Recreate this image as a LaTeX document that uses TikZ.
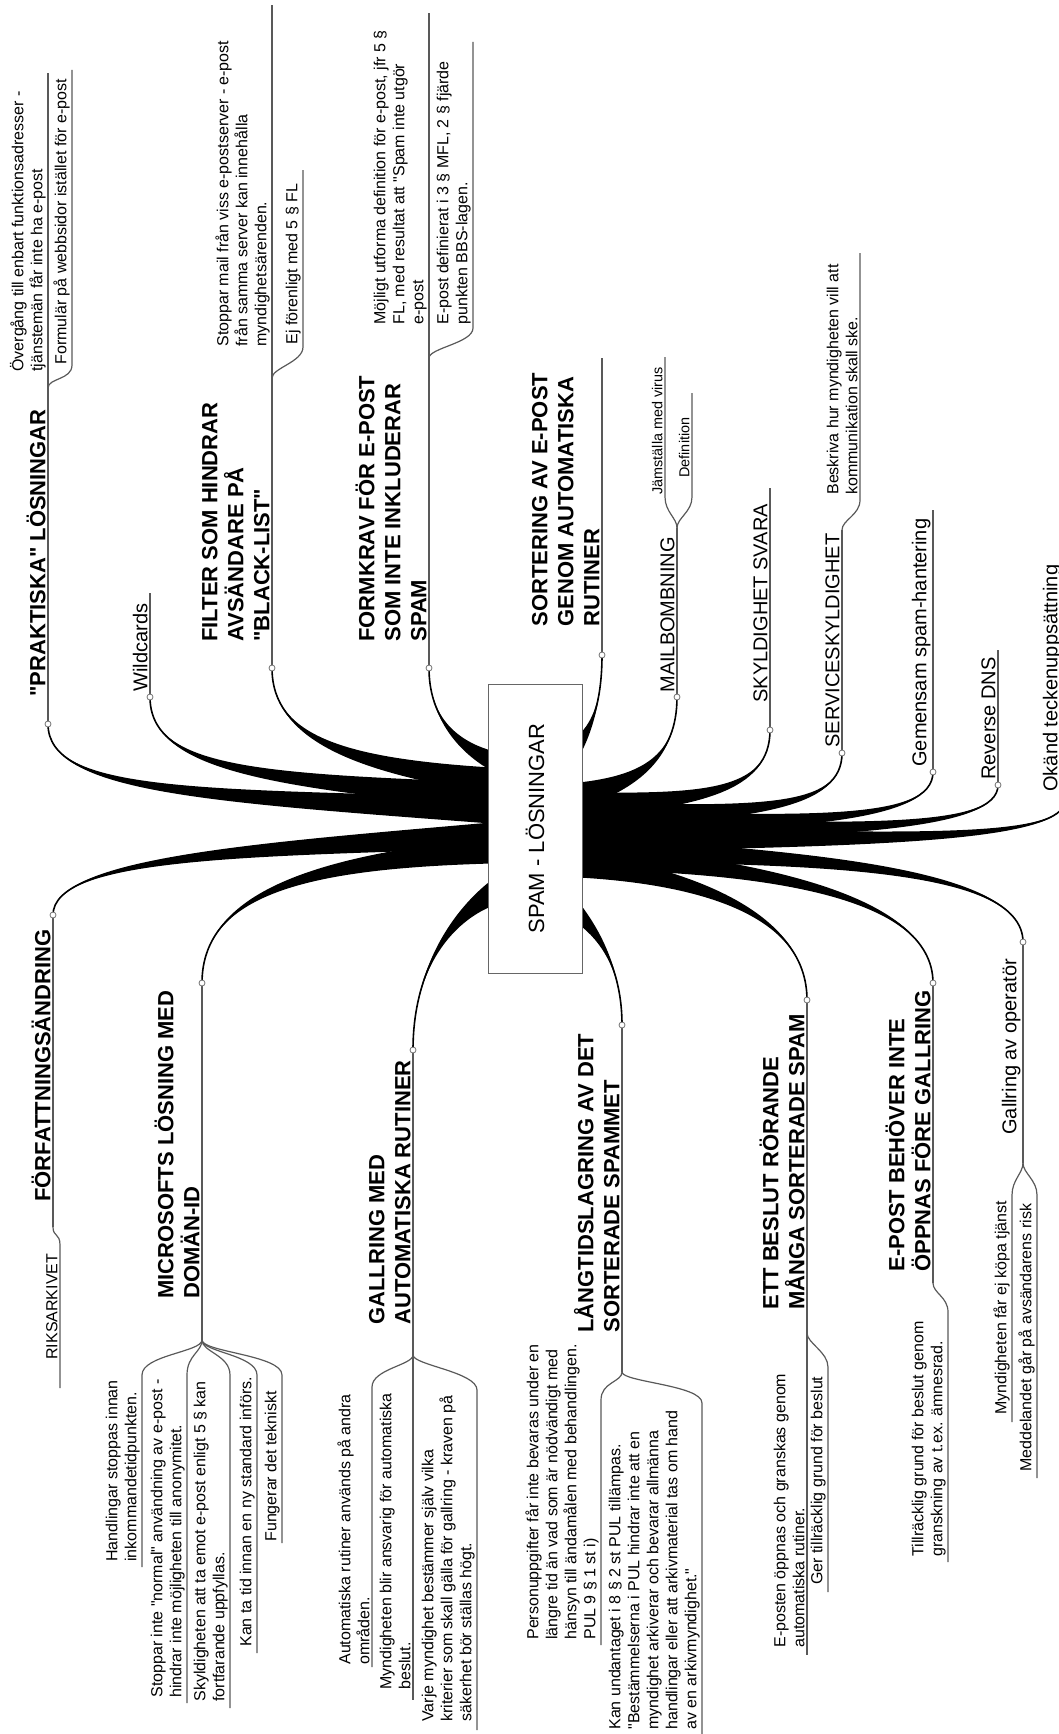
\documentclass[tikz,border=0pt]{standalone}
\usepackage{fontspec}
\newfontfamily\liber{Liberation Sans}
\usetikzlibrary{calc}

% tapered main branch: offset from hub, two controls, junction, half width
\newcommand{\stem}[5]{%
  \fill ($(hub)+(#1)+(0,#5)$) .. controls ($(#2)+(0,0.5*#5)$) and (#3) .. (#4)
     .. controls (#3) and ($(#2)-(0,0.5*#5)$) .. ($(hub)+(#1)-(0,#5)$) -- cycle;
  \draw[line width=0.8pt] ($(hub)+(#1)$) .. controls (#2) and (#3) .. (#4);
}

\begin{document}
\begin{tikzpicture}[x=0.5pt,y=-0.5pt]
    \tikzstyle{main}=[rotate=90,anchor=south west,inner sep=0pt,align=left,font=\liber\fontsize{11}{13}\selectfont\bfseries]
    \tikzstyle{sub}=[rotate=90,anchor=south west,inner sep=0pt,align=left,font=\liber\fontsize{10}{12}\selectfont]
    \tikzstyle{leaf}=[rotate=90,anchor=south west,inner sep=0pt,align=left,font=\liber\fontsize{8}{9.5}\selectfont]
    \tikzstyle{tiny}=[rotate=90,anchor=south west,inner sep=0pt,align=left,font=\liber\fontsize{7.2}{8.6}\selectfont]
    \tikzstyle{uline}=[draw=black!65,line width=0.6pt]
    \tikzstyle{knot}=[circle,draw=black!55,fill=white,inner sep=0pt,minimum size=3pt,line width=0.4pt]

    \useasboundingbox (0,0) rectangle (1059,1734);
    \clip (0,0) rectangle (1059,1734);

    \coordinate (hub) at (535,828.5);

    % junctions and ends of the main topics
    \coordinate (prak-j) at (48,724);     \coordinate (prak-f) at (48,388);
    \coordinate (wild-j) at (150,697);    \coordinate (wild-f) at (150,593);
    \coordinate (filt-j) at (272,668);    \coordinate (filt-f) at (272,378);
    \coordinate (form-j) at (429,668);    \coordinate (form-f) at (429,358);
    \coordinate (sort-j) at (602,655);    \coordinate (sort-f) at (602,358);
    \coordinate (mail-j) at (677,697);    \coordinate (mail-f) at (677,528);
    \coordinate (skyl-j) at (770,730);    \coordinate (skyl-f) at (770,488);
    \coordinate (serv-j) at (842,753);    \coordinate (serv-f) at (842,530);
    \coordinate (gem-j) at (933,772);     \coordinate (gem-f) at (933,510);
    \coordinate (dns-j) at (998,785);     \coordinate (dns-f) at (998,650);
    \coordinate (okand-j) at (1065,800);  \coordinate (okand-f) at (1065,540);
    \coordinate (forf-j) at (53,915);     \coordinate (forf-f) at (53,1227);
    \coordinate (ms-j) at (202,983);      \coordinate (ms-f) at (202,1340);
    \coordinate (gall-j) at (413,1050);   \coordinate (gall-f) at (413,1355);
    \coordinate (lang-j) at (622,1025);   \coordinate (lang-f) at (622,1372);
    \coordinate (beslut-j) at (807,1000); \coordinate (beslut-f) at (807,1333);
    \coordinate (epost-j) at (933,983);   \coordinate (epost-f) at (933,1283);
    \coordinate (gop-j) at (1023,942);    \coordinate (gop-f) at (1023,1163);

    % branches out of the centre
    \stem{-44,-18}{200,795}{48,792}{prak-j}{13}
    \stem{-44,-33}{260,780}{150,768}{wild-j}{13}
    \stem{-44,-48}{350,765}{272,738}{filt-j}{13}
    \stem{-44,-68}{455,745}{429,715}{form-j}{10}
    \stem{44,-83}{592,728}{602,700}{sort-j}{11}
    \stem{44,-33}{640,782}{677,757}{mail-j}{13}
    \stem{44,-23}{700,800}{770,792}{skyl-j}{13}
    \stem{44,-13}{760,813}{842,808}{serv-j}{13}
    \stem{44,-5}{800,822}{933,822}{gem-j}{13}
    \stem{44,2}{850,830}{998,830}{dns-j}{13}
    \stem{44,10}{900,840}{1065,840}{okand-j}{13}
    \stem{44,20}{800,858}{1023,866}{gop-j}{13}
    \stem{44,28}{760,866}{933,895}{epost-j}{13}
    \stem{44,36}{700,878}{807,915}{beslut-j}{13}
    \stem{44,85}{600,935}{622,970}{lang-j}{11}
    \stem{-44,65}{455,915}{413,965}{gall-j}{13}
    \stem{-44,22}{320,862}{202,890}{ms-j}{13}
    \stem{-44,7}{250,850}{53,858}{forf-j}{13}

    \foreach \t in {prak,wild,filt,form,sort,mail,skyl,serv,gem,dns,okand,forf,ms,gall,lang,beslut,epost,gop}
        \draw[uline] (\t-j) -- (\t-f);

    % sub branches
    \draw[uline] (prak-f) -- (48,73) coordinate (prak-1);
    \draw[uline] (prak-f) .. controls +(0,-10) and +(0,15) .. (72,365) -- (72,70) coordinate (prak-2);
    \draw[uline] (filt-f) -- (272,5) coordinate (filt-1);
    \draw[uline] (filt-f) .. controls +(0,-10) and +(0,15) .. (303,347) -- (303,170) coordinate (filt-2);
    \draw[uline] (form-f) -- (429,13) coordinate (form-1);
    \draw[uline] (form-f) .. controls +(0,-10) and +(0,15) .. (473,328) -- (473,42) coordinate (form-2);
    \draw[uline] (mail-f) .. controls +(0,-10) and +(0,15) .. (665,497) -- (665,357) coordinate (mail-1);
    \draw[uline] (mail-f) .. controls +(0,-10) and +(0,15) .. (692,497) -- (692,393) coordinate (mail-2);
    \draw[uline] (serv-f) .. controls +(0,-10) and +(0,15) .. (860,500) -- (860,253) coordinate (serv-1);
    \draw[uline] (forf-f) .. controls +(0,10) and +(0,-12) .. (60,1245) -- (60,1388) coordinate (forf-1);
    \foreach \x/\e [count=\i] in {142/1567, 187/1703, 230/1708, 257/1653, 282/1543}
        \draw[uline] (ms-f) .. controls +(0,12) and +(0,-20) .. (\x,1375) -- (\x,\e) coordinate (ms-\i);
    \draw[uline] (gall-f) .. controls +(0,10) and +(0,-18) .. (372,1387) -- (372,1667) coordinate (gall-1);
    \draw[uline] (gall-f) -- (413,1700) coordinate (gall-2);
    \draw[uline] (gall-f) .. controls +(0,10) and +(0,-18) .. (477,1390) -- (477,1730) coordinate (gall-3);
    \draw[uline] (lang-f) .. controls +(0,10) and +(0,-18) .. (601,1400) -- (601,1645) coordinate (lang-1);
    \draw[uline] (lang-f) .. controls +(0,10) and +(0,-18) .. (702,1403) -- (702,1740) coordinate (lang-2);
    \draw[uline] (beslut-f) -- (807,1655) coordinate (beslut-1);
    \draw[uline] (beslut-f) .. controls +(0,10) and +(0,-15) .. (828,1367) -- (828,1592) coordinate (beslut-2);
    \draw[uline] (epost-f) .. controls +(0,10) and +(0,-15) .. (948,1312) -- (948,1562) coordinate (epost-1);
    \draw[uline] (gop-f) .. controls +(0,10) and +(0,-15) .. (1012,1195) -- (1012,1422) coordinate (gop-1);
    \draw[uline] (gop-f) .. controls +(0,10) and +(0,-15) .. (1037,1195) -- (1037,1478) coordinate (gop-2);

    \foreach \t in {prak,wild,filt,form,sort,mail,skyl,serv,gem,dns,forf,ms,gall,lang,beslut,epost,gop}
        \node[knot] (\t-k) at (\t-j) {};

    % centre
    \node[draw=black!60,fill=white,rotate=90,minimum width=144.5pt,minimum height=47pt,
          font=\liber\fontsize{11}{13}\selectfont] (spam) at (hub) {SPAM - LÖSNINGAR};

    % main topics
    \node[main] (prak) at (46,697) {"PRAKTISKA" LÖSNINGAR};
    \node[sub] (wild) at (148,692) {Wildcards};
    \node[main] (filt) at (270,642) {FILTER SOM HINDRAR\\AVSÄNDARE PÅ\\"BLACK-LIST"};
    \node[main] (form) at (427,642) {FORMKRAV FÖR E-POST\\SOM INTE INKLUDERAR\\SPAM};
    \node[main] (sort) at (600,627) {SORTERING AV E-POST\\GENOM AUTOMATISKA\\RUTINER};
    \node[sub] (mail) at (675,693) {MAILBOMBNING};
    \node[sub] (skyl) at (768,703) {SKYLDIGHET SVARA};
    \node[sub] (serv) at (840,748) {SERVICESKYLDIGHET};
    \node[sub] (gem) at (931,767) {Gemensam spam-hantering};
    \node[sub] (dns) at (996,780) {Reverse DNS};
    \node[sub] (okand) at (1062,792) {Okänd teckenuppsättning};
    \node[main] (forf) at (51,1202) {FÖRFATTNINGSÄNDRING};
    \node[main] (ms) at (200,1299) {MICROSOFTS LÖSNING MED\\DOMÄN-ID};
    \node[main] (gall) at (411,1325) {GALLRING MED\\AUTOMATISKA RUTINER};
    \node[main] (lang) at (620,1333) {LÅNGTIDSLAGRING AV DET\\SORTERADE SPAMMET};
    \node[main] (beslut) at (805,1310) {ETT BESLUT RÖRANDE\\MÅNGA SORTERADE SPAM};
    \node[main] (epost) at (931,1272) {E-POST BEHÖVER INTE\\ÖPPNAS FÖRE GALLRING};
    \node[sub] (gop) at (1021,1135) {Gallring av operatör};

    % leaves
    \node[leaf] (prak-t1) at (46,372) {Övergång till enbart funktionsadresser -\\tjänstemän får inte ha e-post};
    \node[leaf] (prak-t2) at (70,365) {Formulär på webbsidor istället för e-post};
    \node[leaf] (filt-t1) at (270,347) {Stoppar mail från viss e-postserver - e-post\\från samma server kan innehålla\\myndighetsärenden.};
    \node[leaf] (filt-t2) at (301,345) {Ej förenligt med 5 § FL};
    \node[leaf] (form-t1) at (427,325) {Möjligt utforma definition för e-post, jfr 5 §\\FL, med resultat att "Spam inte utgör\\e-post};
    \node[leaf] (form-t2) at (471,325) {E-post definierat i 3 § MFL, 2 § fjärde\\punkten BBS-lagen.};
    \node[tiny] (mail-t1) at (663,495) {Jämställa med virus};
    \node[tiny] (mail-t2) at (690,478) {Definition};
    \node[leaf] (serv-t1) at (858,495) {Beskriva hur myndigheten vill att\\kommunikation skall ske.};
    \node[leaf] (forf-t1) at (58,1360) {RIKSARKIVET};
    \node[leaf] (ms-t1) at (140,1562) {Handlingar stoppas innan\\inkommandetidpunkten.};
    \node[leaf] (ms-t2) at (185,1698) {Stoppar inte "normal" användning av e-post -\\hindrar inte möjligheten till anonymitet.};
    \node[leaf] (ms-t3) at (228,1702) {Skyldigheten att ta emot e-post enligt 5 § kan\\fortfarande uppfyllas.};
    \node[leaf] (ms-t4) at (255,1647) {Kan ta tid innan en ny standard införs.};
    \node[leaf] (ms-t5) at (280,1542) {Fungerar det tekniskt};
    \node[leaf] (gall-t1) at (370,1665) {Automatiska rutiner används på andra\\områden.};
    \node[leaf] (gall-t2) at (411,1690) {Myndigheten blir ansvarig för automatiska\\beslut.};
    \node[leaf] (gall-t3) at (475,1722) {Varje myndighet bestämmer själv vilka\\kriterier som skall gälla för gallring - kraven på\\säkerhet bör ställas högt.};
    \node[leaf] (lang-t1) at (599,1640) {Personuppgifter får inte bevaras under en\\längre tid än vad som är nödvändigt med\\hänsyn till ändamålen med behandlingen.\\PUL 9 § 1 st i)};
    \node[leaf] (lang-t2) at (700,1730) {Kan undantaget i 8 § 2 st PUL tillämpas.\\"Bestämmelserna i PUL hindrar inte att en\\myndighet arkiverar och bevarar allmänna\\handlingar eller att arkivmaterial tas om hand\\av en arkivmyndighet."};
    \node[leaf] (beslut-t1) at (805,1648) {E-posten öppnas och granskas genom\\automatiska rutiner.};
    \node[leaf] (beslut-t2) at (826,1585) {Ger tillräcklig grund för beslut};
    \node[leaf] (epost-t1) at (946,1557) {Tillräcklig grund för beslut genom\\granskning av t.ex. ämnesrad.};
    \node[leaf] (gop-t1) at (1010,1415) {Myndigheten får ej köpa tjänst};
    \node[leaf] (gop-t2) at (1035,1472) {Meddelandet går på avsändarens risk};
\end{tikzpicture}
\end{document}
